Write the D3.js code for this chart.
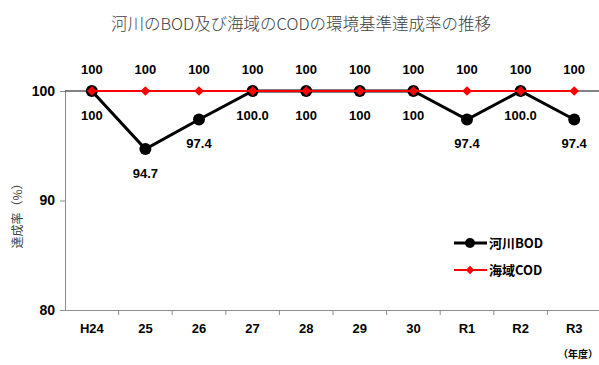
<!DOCTYPE html>
<html>
<head>
<meta charset="utf-8">
<script src="https://cdn.jsdelivr.net/npm/d3@7"></script>
<style>
  html, body { margin: 0; padding: 0; background: #fff; }
  svg { display: block; }
</style>
</head>
<body>
<svg id="chart" width="599" height="365"></svg>
<script>
// Fiscal years
const years = ["H24", "25", "26", "27", "28", "29", "30", "R1", "R2", "R3"];
// River BOD achievement rate (%)
const riverBOD = [100, 94.7, 97.4, 100, 100, 100, 100, 97.4, 100, 97.4];
const riverLabels = ["100", "94.7", "97.4", "100.0", "100", "100", "100", "97.4", "100.0", "97.4"];
// Sea-area COD achievement rate (%)
const seaCOD = [100, 100, 100, 100, 100, 100, 100, 100, 100, 100];
const seaLabels = ["100", "100", "100", "100", "100", "100", "100", "100", "100", "100"];
// Y axis ticks
const yTicks = [80, 90, 100];

const svg = d3.select("#chart");
const numFont = "'Liberation Sans', Arial, sans-serif";
const jpFont = "'Noto Sans CJK JP', sans-serif";

const x = d3.scaleBand().domain(years).range([65, 601]);
const y = d3.scaleLinear().domain([80, 100]).range([310, 91]);
const cx = d => x(d) + x.bandwidth() / 2;

// Title
svg.append("text")
  .attr("x", 301).attr("y", 30)
  .attr("text-anchor", "middle")
  .attr("font-family", jpFont).attr("font-size", 16.5).attr("font-weight", 300)
  .attr("fill", "#404040")
  .text("河川のBOD及び海域のCODの環境基準達成率の推移");

// Y axis
const yAxis = svg.append("g")
  .attr("transform", "translate(65,0)")
  .call(d3.axisLeft(y).tickValues(yTicks).tickSize(5).tickPadding(5).tickFormat(d3.format("d")));
yAxis.select(".domain").attr("stroke", "#8c8c8c");
yAxis.selectAll(".tick line").attr("stroke", "#8c8c8c");
yAxis.selectAll(".tick text")
  .attr("font-family", numFont).attr("font-size", 14).attr("font-weight", "bold").attr("fill", "#000");

// Plot top edge at 100
svg.append("line")
  .attr("x1", 65).attr("x2", 601).attr("y1", y(100)).attr("y2", y(100))
  .attr("stroke", "#595959").attr("stroke-width", 1.5);

// X axis
const xAxis = svg.append("g")
  .attr("transform", "translate(0,310)")
  .call(d3.axisBottom(x).tickSize(0).tickPadding(14));
xAxis.select(".domain").attr("stroke", "#8c8c8c");
xAxis.selectAll(".tick text")
  .attr("font-family", numFont).attr("font-size", 13).attr("font-weight", "bold").attr("fill", "#000");
// Ticks on band boundaries
xAxis.selectAll(".bnd")
  .data(years.slice(1))
  .join("line")
  .attr("class", "bnd")
  .attr("x1", d => x(d)).attr("x2", d => x(d))
  .attr("y1", 0).attr("y2", 5)
  .attr("stroke", "#8c8c8c");

// Y axis title
svg.append("text")
  .attr("transform", "translate(22,213) rotate(-90)")
  .attr("text-anchor", "middle")
  .attr("font-family", jpFont).attr("font-size", 12)
  .attr("fill", "#404040")
  .text("達成率（%）");

// Unit note
svg.append("text")
  .attr("x", 578).attr("y", 358)
  .attr("text-anchor", "middle")
  .attr("font-family", jpFont).attr("font-size", 10).attr("font-weight", "bold")
  .attr("fill", "#000")
  .text("（年度）");

// River BOD line
const riverLine = d3.line().x((d, i) => cx(years[i])).y(d => y(d));
svg.append("path")
  .datum(riverBOD)
  .attr("d", riverLine)
  .attr("fill", "none").attr("stroke", "#000").attr("stroke-width", 3);
svg.selectAll(".bodpt")
  .data(riverBOD)
  .join("circle")
  .attr("class", "bodpt")
  .attr("cx", (d, i) => cx(years[i])).attr("cy", d => y(d))
  .attr("r", 6).attr("fill", "#000");

// Sea COD line
svg.append("path")
  .datum(seaCOD)
  .attr("d", riverLine)
  .attr("fill", "none").attr("stroke", "#ff0000").attr("stroke-width", 2);
const diamond = d3.symbol().type(d3.symbolDiamond2).size(60);
svg.selectAll(".codpt")
  .data(seaCOD)
  .join("path")
  .attr("class", "codpt")
  .attr("transform", (d, i) => `translate(${cx(years[i])},${y(d)})`)
  .attr("d", diamond)
  .attr("fill", "#ff0000");

// Value labels
svg.selectAll(".codlbl")
  .data(seaCOD)
  .join("text")
  .attr("class", "codlbl")
  .attr("x", (d, i) => cx(years[i])).attr("y", d => y(d) - 17)
  .attr("text-anchor", "middle")
  .attr("font-family", numFont).attr("font-size", 13).attr("font-weight", "bold")
  .text((d, i) => seaLabels[i]);
svg.selectAll(".bodlbl")
  .data(riverBOD)
  .join("text")
  .attr("class", "bodlbl")
  .attr("x", (d, i) => cx(years[i])).attr("y", d => y(d) + 29)
  .attr("text-anchor", "middle")
  .attr("font-family", numFont).attr("font-size", 13).attr("font-weight", "bold")
  .text((d, i) => riverLabels[i]);

// Legend
const legend = [
  { name: "河川BOD", color: "#000", w: 3, mark: "circle" },
  { name: "海域COD", color: "#ff0000", w: 2, mark: "diamond" }
];
const lg = svg.append("g");
legend.forEach((l, i) => {
  const ly = 243 + i * 27;
  lg.append("line").attr("x1", 454).attr("x2", 487).attr("y1", ly).attr("y2", ly)
    .attr("stroke", l.color).attr("stroke-width", l.w);
  if (l.mark === "circle") {
    lg.append("circle").attr("cx", 470).attr("cy", ly).attr("r", 5).attr("fill", l.color);
  } else {
    lg.append("path").attr("transform", `translate(470,${ly})`)
      .attr("d", d3.symbol().type(d3.symbolDiamond2).size(45)).attr("fill", l.color);
  }
  lg.append("text").attr("x", 489).attr("y", ly + 5)
    .attr("font-family", jpFont).attr("font-size", 13).attr("font-weight", "bold")
    .text(l.name);
});
</script>
</body>
</html>
